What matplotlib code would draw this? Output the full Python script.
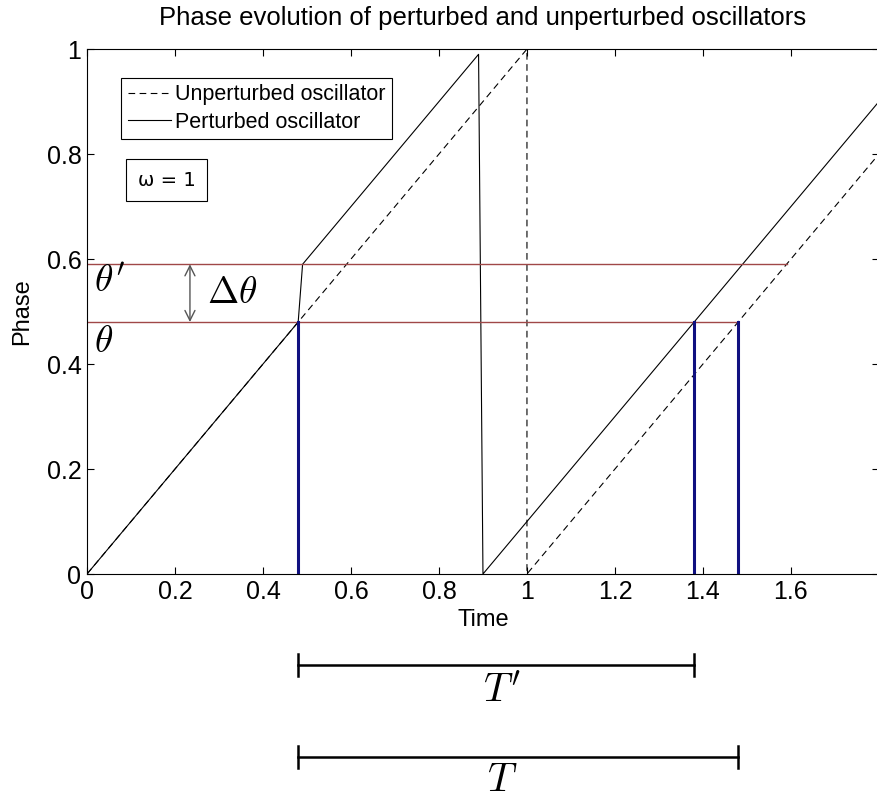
import matplotlib.pyplot as plt

# phase curves (time, phase)
t_unpert = [0.0, 1.0, 1.0, 1.8]
ph_unpert = [0.0, 1.0, 0.0, 0.8]
t_pert = [0.0, 0.48, 0.49, 0.89, 0.90, 1.8]
ph_pert = [0.0, 0.48, 0.59, 0.99, 0.0, 0.9]

theta = 0.48
theta_prime = 0.59
theta_end = 1.48        # red line for theta ends here
theta_prime_end = 1.59  # red line for theta' ends here
crossings = [0.48, 1.38, 1.48]  # times where phase hits theta

period_pert = (0.48, 1.38)    # T'
period_unpert = (0.48, 1.48)  # T

plt.rcParams['font.family'] = ['Liberation Sans', 'DejaVu Sans']
plt.rcParams['mathtext.fontset'] = 'cm'

fig = plt.figure(figsize=(8.77, 7.99), dpi=100)
ax = fig.add_axes([0.0992, 0.2816, 0.903, 0.657])

ax.plot(t_unpert, ph_unpert, 'k--', lw=0.8, dashes=(6, 4), label='Unperturbed oscillator')
ax.plot(t_pert, ph_pert, 'k-', lw=0.8, label='Perturbed oscillator')

red = '#a04848'
ax.plot([0, theta_prime_end], [theta_prime, theta_prime], color=red, lw=1.0)
ax.plot([0, theta_end], [theta, theta], color=red, lw=1.0)

for c in crossings:
    ax.plot([c, c], [0, theta], color='#101080', lw=2.2)

# delta theta arrow
ax.annotate('', xy=(0.234, theta), xytext=(0.234, theta_prime),
            arrowprops=dict(arrowstyle='<->', color='#555555', lw=1.0,
                            shrinkA=0, shrinkB=0, mutation_scale=18))
ax.text(0.272, 0.535, r'$\Delta\theta$', fontsize=27, va='center', ha='left')
ax.text(0.016, 0.556, r"$\theta'$", fontsize=27, va='center', ha='left')
ax.text(0.016, 0.442, r'$\theta$', fontsize=27, va='center', ha='left')

# period bars below the axes
for (a, b), yb, lab, yl in [(period_pert, -0.173, r"$T'$", -0.222),
                            (period_unpert, -0.349, r'$T$', -0.393)]:
    ax.plot([a, b], [yb, yb], color='k', lw=1.8, clip_on=False)
    for e in (a, b):
        ax.plot([e, e], [yb - 0.021, yb + 0.021], color='k', lw=1.8, clip_on=False)
    ax.text(0.943, yl, lab, fontsize=29, ha='center', va='center')

leg = ax.legend(loc='upper left', bbox_to_anchor=(0.043, 0.945), fontsize=15.5,
                frameon=True, fancybox=False, edgecolor='k', framealpha=1,
                handlelength=2.0, handletextpad=0.2, borderpad=0.3,
                labelspacing=0.3, borderaxespad=0)
leg.get_frame().set_linewidth(0.8)

ax.text(0.158 / 1.0 - 0.042, 0.750, '\u03c9 = 1', fontsize=14, ha='left', va='center',
        family='DejaVu Sans',
        bbox=dict(boxstyle='square,pad=0.6', fc='white', ec='k', lw=0.8))

ax.set_xlim(0, 1.8)
ax.set_ylim(0, 1)
ax.set_xticks([0, 0.2, 0.4, 0.6, 0.8, 1, 1.2, 1.4, 1.6])
ax.set_xticklabels(['0', '0.2', '0.4', '0.6', '0.8', '1', '1.2', '1.4', '1.6'])
ax.set_yticks([0, 0.2, 0.4, 0.6, 0.8, 1])
ax.set_yticklabels(['0', '0.2', '0.4', '0.6', '0.8', '1'])
ax.tick_params(direction='in', length=5, width=0.8, top=True, right=True,
               labelsize=18, pad=4)
for s in ax.spines.values():
    s.set_linewidth(0.8)

ax.set_xlabel('Time', fontsize=17, labelpad=4)
ax.set_ylabel('Phase', fontsize=17, labelpad=10)
ax.set_title('Phase evolution of perturbed and unperturbed oscillators',
             fontsize=18.5, pad=17)

fig.savefig('out.png', dpi=100)
